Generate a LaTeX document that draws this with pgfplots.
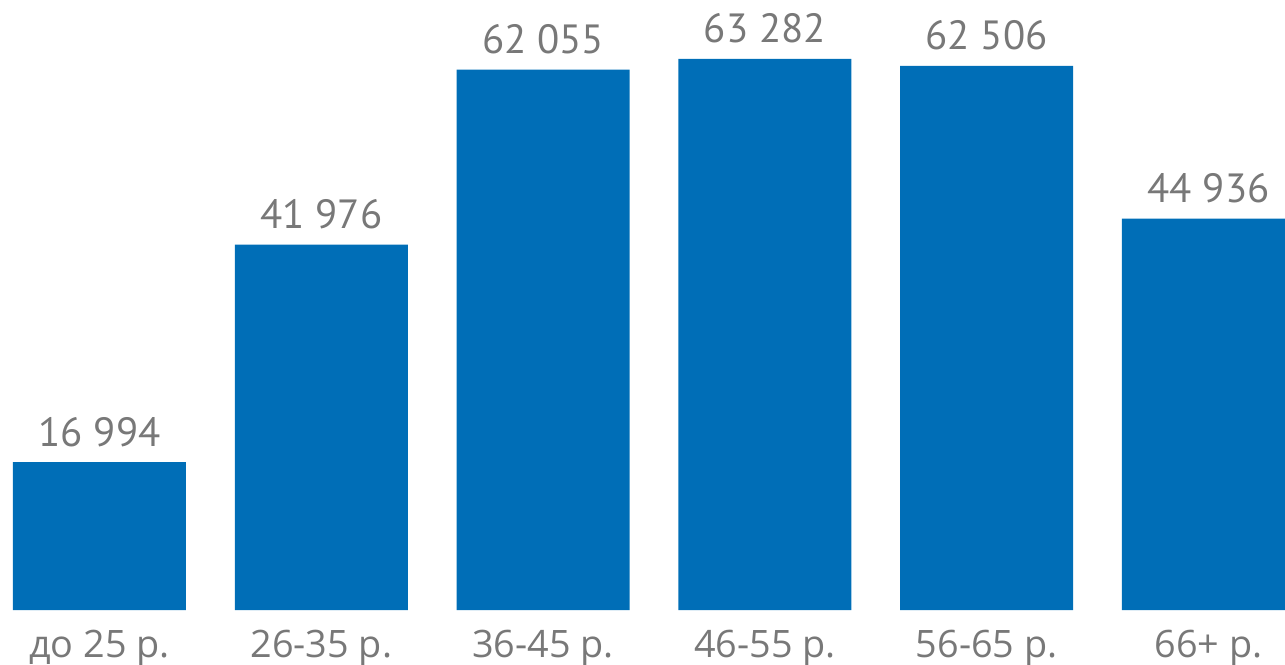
\documentclass[border=0pt]{standalone}
\usepackage{pgfplots}
\pgfplotsset{compat=1.18}
\usepackage{fontspec}
\setmainfont{PT Sans}
\newfontfamily\catfont{Open Sans}
\definecolor{barblue}{HTML}{006EB7}
\definecolor{labgray}{HTML}{787878}
\begin{document}
\begin{tikzpicture}[x=1pt,y=1pt]
\clip (0,-27) rectangle (642.5,305);
\path[use as bounding box] (0,-27) rectangle (642.5,305);
\begin{axis}[
  at={(0,0)}, anchor=south west,
  scale only axis,
  width=642.5pt, height=305pt,
  xmin=-0.4486, xmax=5.345,
  ymin=0, ymax=70058,
  axis line style={draw=none},
  ytick=\empty,
  xtick={0,1,2,3,4,5},
  xticklabels={до 25 р., 26-35 р., 36-45 р., 46-55 р., 56-65 р., 66+ р.},
  major tick length=0pt,
  xticklabel style={anchor=base, yshift=-23.5pt, font=\catfont\fontsize{18.9}{20}\selectfont, text=labgray, inner sep=0pt},
  ybar, bar width=86.5pt,
  nodes near coords,
  point meta=explicit symbolic,
  every node near coord/.append style={anchor=base, yshift=8pt, font=\fontsize{20.4}{22}\selectfont, text=labgray, inner sep=0pt},
  clip=true,
]
\addplot[draw=none, fill=barblue] coordinates {
  (0,16994) [16~994]
  (1,41976) [41~976]
  (2,62055) [62~055]
  (3,63282) [63~282]
  (4,62506) [62~506]
  (5,44936) [44~936]
};
\end{axis}
\end{tikzpicture}
\end{document}
